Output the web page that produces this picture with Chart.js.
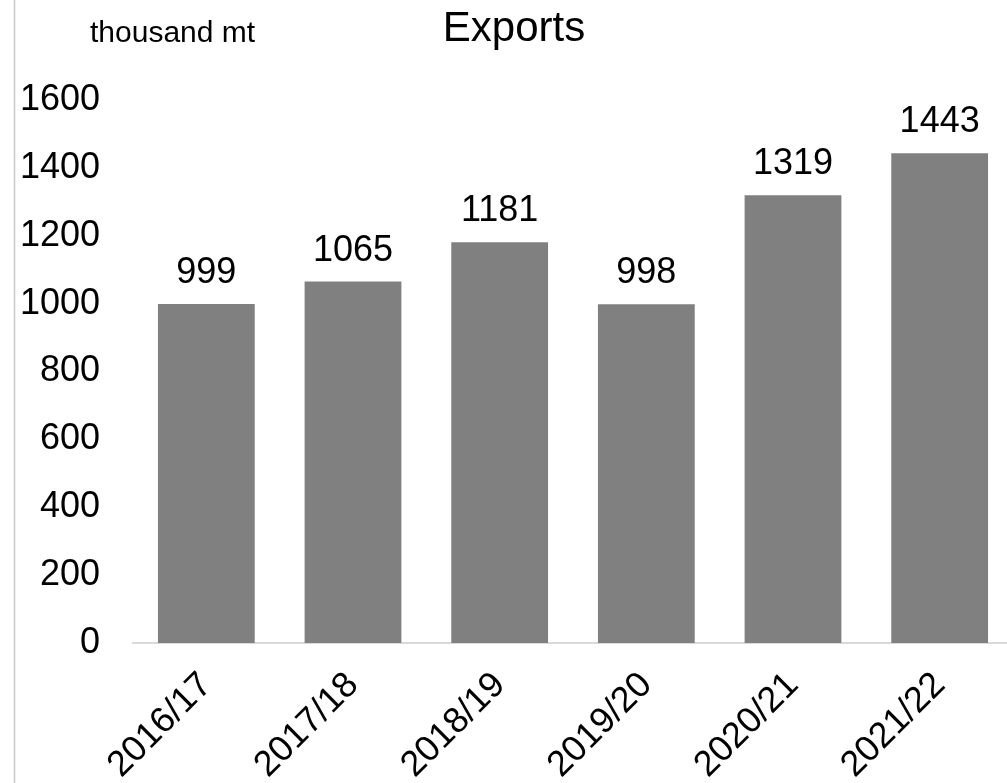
<!DOCTYPE html>
<html>
<head>
<meta charset="utf-8">
<script src="https://cdn.jsdelivr.net/npm/chart.js@4"></script>
<style>
  html, body { margin: 0; padding: 0; background: #fff; overflow: hidden; }
  #wrap { position: relative; width: 1013px; height: 783px; }
</style>
</head>
<body>
<div id="wrap"><canvas id="c" width="1013" height="783"></canvas></div>
<script>
// --- data ---
const seasons = ['2016/17', '2017/18', '2018/19', '2019/20', '2020/21', '2021/22'];
const exportsValues = [999, 1065, 1181, 998, 1319, 1443];
const yTicks = [0, 200, 400, 600, 800, 1000, 1200, 1400, 1600];

const FONT = "'Liberation Sans', Arial, sans-serif";

// タイトル・単位・左枠線
const headerPlugin = {
  id: 'header',
  afterDraw(chart) {
    const ctx = chart.ctx;
    ctx.save();
    ctx.strokeStyle = '#c8c8c8';
    ctx.lineWidth = 1.5;
    ctx.beginPath();
    ctx.moveTo(14.5, 0);
    ctx.lineTo(14.5, chart.height);
    ctx.stroke();

    ctx.fillStyle = '#000';
    ctx.textBaseline = 'alphabetic';
    ctx.font = '42px ' + FONT;
    ctx.textAlign = 'center';
    ctx.fillText('Exports', 514, 41);
    ctx.font = '30px ' + FONT;
    ctx.textAlign = 'left';
    ctx.fillText('thousand mt', 90, 42);
    ctx.restore();
  },
};

// 棒の上の値ラベル
const valueLabels = {
  id: 'valueLabels',
  afterDatasetsDraw(chart) {
    const ctx = chart.ctx;
    const meta = chart.getDatasetMeta(0);
    ctx.save();
    ctx.fillStyle = '#000';
    ctx.font = '36px ' + FONT;
    ctx.textAlign = 'center';
    ctx.textBaseline = 'alphabetic';
    meta.data.forEach((bar, i) => {
      ctx.fillText(String(exportsValues[i]), bar.x, bar.y - 21);
    });
    ctx.restore();
  },
};

new Chart(document.getElementById('c').getContext('2d'), {
  type: 'bar',
  data: {
    labels: seasons,
    datasets: [{
      data: exportsValues,
      backgroundColor: '#808080',
      borderWidth: 0,
      barPercentage: 0.66,
      categoryPercentage: 1.0,
    }],
  },
  options: {
    responsive: false,
    animation: false,
    devicePixelRatio: 1,
    layout: { padding: { top: 100, left: 0, right: 0, bottom: 0 } },
    plugins: {
      legend: { display: false },
      tooltip: { enabled: false },
    },
    scales: {
      x: {
        grid: { display: false, drawTicks: false },
        border: { display: true, color: '#d9d9d9', width: 2 },
        ticks: {
          color: '#000',
          font: { family: FONT, size: 36 },
          minRotation: 45,
          maxRotation: 45,
          padding: 21,
        },
        afterFit: s => { s.height = 140; },
      },
      y: {
        min: 0,
        max: 1600,
        grid: { display: false, drawTicks: false },
        border: { display: false },
        afterBuildTicks: s => { s.ticks = yTicks.map(v => ({ value: v })); },
        ticks: {
          color: '#000',
          font: { family: FONT, size: 36 },
          padding: 33,
          callback: v => String(v),
        },
        afterFit: s => { s.width = 133; },
      },
    },
  },
  plugins: [headerPlugin, valueLabels],
});
</script>
</body>
</html>
